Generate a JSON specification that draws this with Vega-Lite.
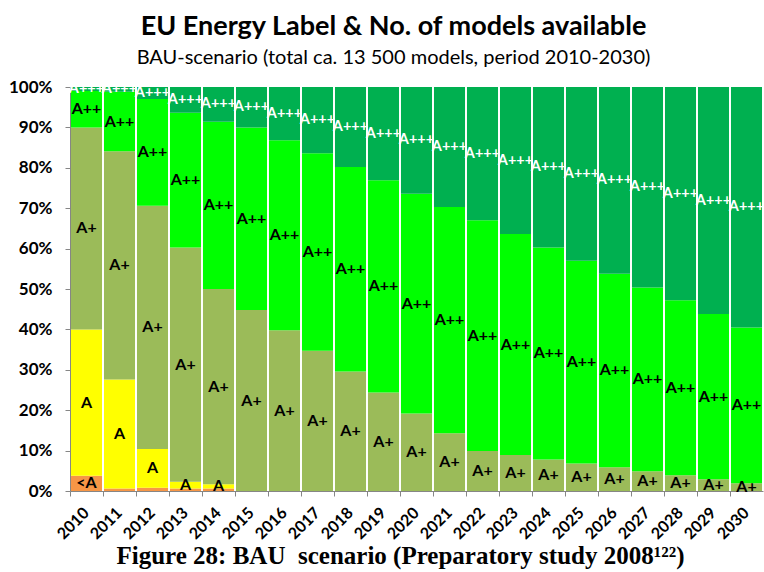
{
  "$schema": "https://vega.github.io/schema/vega-lite/v6.json",
  "width": 693,
  "height": 404,
  "autosize": {"type": "none"},
  "padding": {"left": 70, "top": 87, "right": 1, "bottom": 81},
  "background": "white",
  "config": {"view": {"stroke": null}, "font": "Lato"},
  "title": {
    "text": "EU Energy Label & No. of models available",
    "subtitle": "BAU-scenario (total ca. 13 500 models, period 2010-2030)",
    "font": "Lato", "fontSize": 27, "fontWeight": "bold", "color": "black",
    "subtitleFont": "Lato", "subtitleFontSize": 20, "subtitleColor": "black",
    "subtitlePadding": 7, "offset": 9, "anchor": "middle", "dx": -23
  },
  "data": {"values": [
    {"year": "2010", "cls": "<A", "value": 3.8}, {"year": "2010", "cls": "A", "value": 36.2}, {"year": "2010", "cls": "A+", "value": 50.0}, {"year": "2010", "cls": "A++", "value": 9.0}, {"year": "2010", "cls": "A+++", "value": 1.0},
    {"year": "2011", "cls": "<A", "value": 0.6}, {"year": "2011", "cls": "A", "value": 27.0}, {"year": "2011", "cls": "A+", "value": 56.5}, {"year": "2011", "cls": "A++", "value": 14.7}, {"year": "2011", "cls": "A+++", "value": 1.2},
    {"year": "2012", "cls": "<A", "value": 0.8}, {"year": "2012", "cls": "A", "value": 9.6}, {"year": "2012", "cls": "A+", "value": 60.2}, {"year": "2012", "cls": "A++", "value": 26.4}, {"year": "2012", "cls": "A+++", "value": 3.0},
    {"year": "2013", "cls": "<A", "value": 0.6}, {"year": "2013", "cls": "A", "value": 1.7}, {"year": "2013", "cls": "A+", "value": 58.0}, {"year": "2013", "cls": "A++", "value": 33.3}, {"year": "2013", "cls": "A+++", "value": 6.4},
    {"year": "2014", "cls": "<A", "value": 0.6}, {"year": "2014", "cls": "A", "value": 1.1}, {"year": "2014", "cls": "A+", "value": 48.3}, {"year": "2014", "cls": "A++", "value": 41.4}, {"year": "2014", "cls": "A+++", "value": 8.6},
    {"year": "2015", "cls": "<A", "value": 0}, {"year": "2015", "cls": "A", "value": 0}, {"year": "2015", "cls": "A+", "value": 44.8}, {"year": "2015", "cls": "A++", "value": 45.2}, {"year": "2015", "cls": "A+++", "value": 10.0},
    {"year": "2016", "cls": "<A", "value": 0}, {"year": "2016", "cls": "A", "value": 0}, {"year": "2016", "cls": "A+", "value": 39.8}, {"year": "2016", "cls": "A++", "value": 47.0}, {"year": "2016", "cls": "A+++", "value": 13.2},
    {"year": "2017", "cls": "<A", "value": 0}, {"year": "2017", "cls": "A", "value": 0}, {"year": "2017", "cls": "A+", "value": 34.7}, {"year": "2017", "cls": "A++", "value": 48.9}, {"year": "2017", "cls": "A+++", "value": 16.4},
    {"year": "2018", "cls": "<A", "value": 0}, {"year": "2018", "cls": "A", "value": 0}, {"year": "2018", "cls": "A+", "value": 29.6}, {"year": "2018", "cls": "A++", "value": 50.6}, {"year": "2018", "cls": "A+++", "value": 19.8},
    {"year": "2019", "cls": "<A", "value": 0}, {"year": "2019", "cls": "A", "value": 0}, {"year": "2019", "cls": "A+", "value": 24.4}, {"year": "2019", "cls": "A++", "value": 52.5}, {"year": "2019", "cls": "A+++", "value": 23.1},
    {"year": "2020", "cls": "<A", "value": 0}, {"year": "2020", "cls": "A", "value": 0}, {"year": "2020", "cls": "A+", "value": 19.2}, {"year": "2020", "cls": "A++", "value": 54.4}, {"year": "2020", "cls": "A+++", "value": 26.4},
    {"year": "2021", "cls": "<A", "value": 0}, {"year": "2021", "cls": "A", "value": 0}, {"year": "2021", "cls": "A+", "value": 14.3}, {"year": "2021", "cls": "A++", "value": 56.0}, {"year": "2021", "cls": "A+++", "value": 29.7},
    {"year": "2022", "cls": "<A", "value": 0}, {"year": "2022", "cls": "A", "value": 0}, {"year": "2022", "cls": "A+", "value": 9.9}, {"year": "2022", "cls": "A++", "value": 57.1}, {"year": "2022", "cls": "A+++", "value": 33.0},
    {"year": "2023", "cls": "<A", "value": 0}, {"year": "2023", "cls": "A", "value": 0}, {"year": "2023", "cls": "A+", "value": 8.9}, {"year": "2023", "cls": "A++", "value": 54.7}, {"year": "2023", "cls": "A+++", "value": 36.4},
    {"year": "2024", "cls": "<A", "value": 0}, {"year": "2024", "cls": "A", "value": 0}, {"year": "2024", "cls": "A+", "value": 7.8}, {"year": "2024", "cls": "A++", "value": 52.5}, {"year": "2024", "cls": "A+++", "value": 39.7},
    {"year": "2025", "cls": "<A", "value": 0}, {"year": "2025", "cls": "A", "value": 0}, {"year": "2025", "cls": "A+", "value": 6.8}, {"year": "2025", "cls": "A++", "value": 50.2}, {"year": "2025", "cls": "A+++", "value": 43.0},
    {"year": "2026", "cls": "<A", "value": 0}, {"year": "2026", "cls": "A", "value": 0}, {"year": "2026", "cls": "A+", "value": 5.9}, {"year": "2026", "cls": "A++", "value": 47.9}, {"year": "2026", "cls": "A+++", "value": 46.2},
    {"year": "2027", "cls": "<A", "value": 0}, {"year": "2027", "cls": "A", "value": 0}, {"year": "2027", "cls": "A+", "value": 4.9}, {"year": "2027", "cls": "A++", "value": 45.5}, {"year": "2027", "cls": "A+++", "value": 49.6},
    {"year": "2028", "cls": "<A", "value": 0}, {"year": "2028", "cls": "A", "value": 0}, {"year": "2028", "cls": "A+", "value": 3.9}, {"year": "2028", "cls": "A++", "value": 43.3}, {"year": "2028", "cls": "A+++", "value": 52.8},
    {"year": "2029", "cls": "<A", "value": 0}, {"year": "2029", "cls": "A", "value": 0}, {"year": "2029", "cls": "A+", "value": 2.9}, {"year": "2029", "cls": "A++", "value": 40.9}, {"year": "2029", "cls": "A+++", "value": 56.2},
    {"year": "2030", "cls": "<A", "value": 0}, {"year": "2030", "cls": "A", "value": 0}, {"year": "2030", "cls": "A+", "value": 1.9}, {"year": "2030", "cls": "A++", "value": 38.6}, {"year": "2030", "cls": "A+++", "value": 59.5}
  ]},
  "transform": [
    {"stack": "value", "groupby": ["year"], "sort": [{"field": "cls", "order": "ascending"}], "as": ["v0", "v1"]},
    {"calculate": "(datum.v0 + datum.v1) / 2", "as": "vmid"}
  ],
  "encoding": {
    "x": {
      "field": "year", "type": "ordinal",
      "scale": {"paddingInner": 0.06, "paddingOuter": 0.03},
      "axis": {
        "title": "Figure 28: BAU\u00a0 scenario (Preparatory study 2008¹²²)",
        "titleFont": "Liberation Serif", "titleFontSize": 25, "titleFontWeight": "bold", "titleColor": "black",
        "titlePadding": 2, "titleX": 330,
        "labelAngle": -45, "labelAlign": "right", "labelBaseline": "middle",
        "labelFont": "Lato", "labelFontSize": 16, "labelFontWeight": "bold", "labelColor": "black",
        "labelPadding": 14,
        "bandPosition": 0,
        "domainColor": "#868686", "tickColor": "#868686", "tickSize": 5
      }
    }
  },
  "layer": [
    {
      "mark": {"type": "bar"},
      "encoding": {
        "y": {
          "field": "v0", "type": "quantitative",
          "scale": {"domain": [0, 100], "nice": false},
          "axis": {
            "title": null, "values": [0, 10, 20, 30, 40, 50, 60, 70, 80, 90, 100],
            "labelExpr": "datum.value + '%'", "grid": false,
            "labelFont": "Lato", "labelFontSize": 17, "labelFontWeight": "bold", "labelColor": "black",
            "domainColor": "#868686", "tickColor": "#868686", "tickSize": 5, "labelPadding": 13
          }
        },
        "y2": {"field": "v1"},
        "color": {
          "field": "cls", "type": "nominal",
          "scale": {"domain": ["<A", "A", "A+", "A++", "A+++"], "range": ["#F79646", "#FFFF00", "#9BBB59", "#00FF00", "#00B050"]},
          "legend": null
        }
      }
    },
    {
      "transform": [{"filter": "datum.value >= 1"}],
      "mark": {"type": "text", "font": "Lato", "fontWeight": "bold", "baseline": "middle", "align": "center"},
      "encoding": {
        "y": {"field": "vmid", "type": "quantitative"},
        "text": {"field": "cls", "type": "nominal"},
        "size": {"condition": {"test": "datum.cls === 'A+++'", "value": 14.5}, "value": 16},
        "color": {"condition": {"test": "datum.cls === 'A+++'", "value": "white"}, "value": "black"}
      }
    }
  ]
}
